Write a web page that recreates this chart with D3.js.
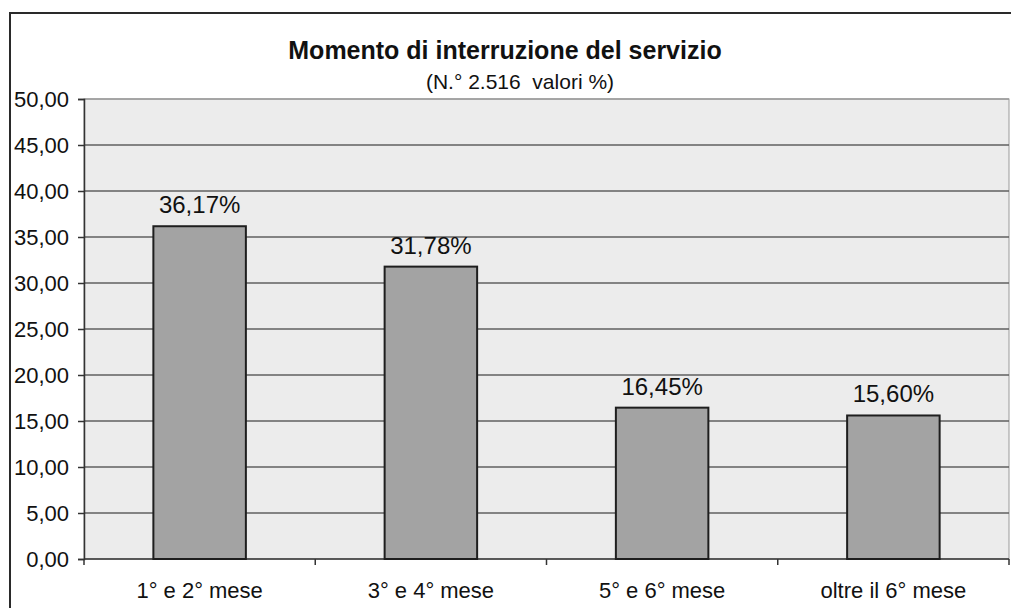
<!DOCTYPE html>
<html>
<head>
<meta charset="utf-8">
<script src="https://cdn.jsdelivr.net/npm/d3@7"></script>
<style>
  body { margin: 0; background: #fff; }
  svg { display: block; font-family: "Liberation Sans", Arial, sans-serif; }
</style>
</head>
<body>
<svg id="chart" width="1011" height="608"></svg>
<script>
const categories = ["1° e 2° mese", "3° e 4° mese", "5° e 6° mese", "oltre il 6° mese"]
const values = [36.17, 31.78, 16.45, 15.60]
const valueLabels = ["36,17%", "31,78%", "16,45%", "15,60%"]
const yTicks = [0, 5, 10, 15, 20, 25, 30, 35, 40, 45, 50]

const svg = d3.select("#chart")
const margin = { top: 99, right: 2, bottom: 49, left: 84 }
const width = 1011 - margin.left - margin.right
const height = 608 - margin.top - margin.bottom

// outer frame (cut off at right/bottom like the scan)
svg.append("rect")
  .attr("x", 10).attr("y", 13).attr("width", 1020).attr("height", 620)
  .attr("fill", "#fff").attr("stroke", "#2a2a2a").attr("stroke-width", 2)

const g = svg.append("g").attr("transform", `translate(${margin.left},${margin.top})`)

const x = d3.scaleBand().domain(categories).range([0, width]).paddingInner(0.6).paddingOuter(0.3)
const xEdge = d3.scaleLinear().domain([0, categories.length]).range([0, width])
const y = d3.scaleLinear().domain([0, 50]).range([height, 0])

g.append("rect")
  .attr("width", width).attr("height", height)
  .attr("fill", "#ececec").attr("stroke", "#9a9a9a").attr("stroke-width", 1)

// gridlines
g.selectAll(".grid").data(yTicks.filter((d) => d > 0)).enter().append("line")
  .attr("class", "grid")
  .attr("x1", 0).attr("x2", width)
  .attr("y1", (d) => y(d)).attr("y2", (d) => y(d))
  .attr("stroke", (d) => (d === 50 ? "#9a9a9a" : "#606060")).attr("stroke-width", 1.5)

const yAxis = d3.axisLeft(y).tickValues(yTicks).tickSize(6).tickPadding(9)
  .tickFormat((d) => d3.format(".2f")(d).replace(".", ","))
const gy = g.append("g").call(yAxis)
gy.select(".domain").attr("stroke", "#333").attr("stroke-width", 1.5)
gy.selectAll(".tick line").attr("stroke", "#333").attr("stroke-width", 1.5)
gy.selectAll("text").attr("font-size", 22).attr("fill", "#111")
  .attr("font-family", "Liberation Sans, Arial, sans-serif")

// x baseline + category ticks
g.append("line").attr("x1", 0).attr("x2", width).attr("y1", height).attr("y2", height)
  .attr("stroke", "#333").attr("stroke-width", 1.5)
g.selectAll(".xtick").data(d3.range(categories.length + 1)).enter().append("line")
  .attr("x1", (d) => xEdge(d)).attr("x2", (d) => xEdge(d))
  .attr("y1", height).attr("y2", height + 6)
  .attr("stroke", "#333").attr("stroke-width", 1.5)

g.selectAll(".catlabel").data(categories).enter().append("text")
  .attr("x", (d) => x(d) + x.bandwidth() / 2).attr("y", height + 39)
  .attr("text-anchor", "middle").attr("font-size", 22).attr("fill", "#111")
  .text((d) => d)

// bars
g.selectAll(".bar").data(values).enter().append("rect")
  .attr("class", "bar")
  .attr("x", (d, i) => x(categories[i])).attr("width", x.bandwidth())
  .attr("y", (d) => y(d)).attr("height", (d) => height - y(d))
  .attr("fill", "#a3a3a3").attr("stroke", "#1e1e1e").attr("stroke-width", 2)

g.selectAll(".vlabel").data(values).enter().append("text")
  .attr("x", (d, i) => x(categories[i]) + x.bandwidth() / 2).attr("y", (d) => y(d) - 13)
  .attr("text-anchor", "middle").attr("font-size", 24).attr("fill", "#111")
  .text((d, i) => valueLabels[i])

// titles
svg.append("text").attr("x", 505).attr("y", 59).attr("text-anchor", "middle")
  .attr("font-size", 25).attr("font-weight", "bold").attr("fill", "#111")
  .text("Momento di interruzione del servizio")
svg.append("text").attr("x", 520).attr("y", 89).attr("text-anchor", "middle")
  .attr("font-size", 21).attr("fill", "#111").attr("xml:space", "preserve")
  .text("(N.° 2.516  valori %)")
</script>
</body>
</html>
